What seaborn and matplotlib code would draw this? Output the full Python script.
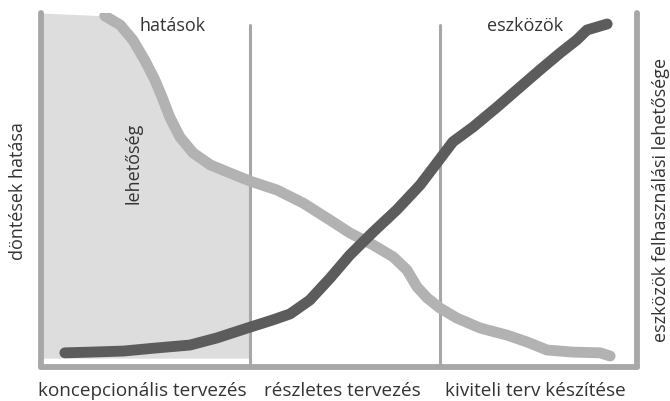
"""Design phases: decision impact vs. tool usage"""
import matplotlib
matplotlib.use("Agg")
import matplotlib.pyplot as plt
import numpy as np
import pandas as pd
import seaborn as sns

# Curve samples (x = project progress 0..100, y = level 0..100)
impact_x = [10.7, 13.3, 15.4, 17.4, 19.1, 20.3, 21.6, 23.3, 25.5, 28.4, 31.7,
            35.1, 39.6, 44.0, 48.5, 51.8, 55.7, 59.1, 61.4, 63.1, 64.8, 66.9,
            69.8, 73.7, 78.2, 81.5, 84.9, 89.3, 93.8, 95.5]
impact_y = [99.2, 96.6, 92.4, 86.7, 81.1, 76.3, 70.6, 65.0, 60.5, 57.1, 54.8,
            52.5, 50.0, 46.3, 41.5, 37.9, 34.5, 31.1, 27.4, 22.6, 19.5, 16.7,
            13.8, 11.0, 9.0, 7.1, 4.8, 4.2, 4.0, 3.1]

tools_x = [4.0, 8.2, 13.8, 19.5, 25.0, 29.5, 34.6, 38.9, 41.8, 45.1, 48.5,
           51.8, 55.7, 59.7, 63.6, 66.4, 69.1, 72.5, 76.5, 80.4, 83.7, 87.1,
           89.9, 91.6, 95.0]
tools_y = [4.0, 4.2, 4.5, 5.4, 6.2, 8.2, 11.0, 13.3, 15.0, 18.9, 25.1,
           31.6, 38.1, 44.4, 51.4, 57.6, 63.6, 67.8, 73.4, 79.1, 83.9, 88.7,
           92.4, 95.2, 96.9]

phase_bounds = [35.1, 66.9]
phase_labels = ['koncepcionális tervezés', 'részletes tervezés', 'kiviteli terv készítése']
curve_labels = ['hatások', 'eszközök']
area_label = 'lehetőség'
left_label = 'döntések hatása'
right_label = 'eszközök felhasználási lehetősége'

LIGHT = '#b1b2b1'
DARK = '#5b5c5b'
FRAME = '#a6a7a6'
FILL = '#dcdddc'
TEXT = '#333333'

sns.set_theme(style='white')
plt.rcParams['font.family'] = ['Open Sans', 'DejaVu Sans']

W, H = 670, 401
fig = plt.figure(figsize=(W / 100, H / 100), dpi=100)
# axes frame in pixels: left 41, right 637, top 13, bottom 367
ax = fig.add_axes([41 / W, 1 - 367 / H, 596 / W, 354 / H])
ax.set_xlim(0, 100)
ax.set_ylim(0, 100)

# shaded "possibility" area under the impact curve in the first phase
ix = np.array(impact_x)
iy = np.array(impact_y)
mask = ix <= phase_bounds[0]
fill_x = np.concatenate([[0], ix[mask]])
fill_top = np.concatenate([[100], iy[mask]])
ax.fill_between(fill_x, 2.5, fill_top, color=FILL, lw=0, zorder=1)

# phase separators
for b in phase_bounds:
    ax.plot([b, b], [0, 96.6], color=FRAME, lw=2.2, zorder=2,
            solid_capstyle='round')

impact = pd.DataFrame({'x': impact_x, 'y': impact_y})
tools = pd.DataFrame({'x': tools_x, 'y': tools_y})
sns.lineplot(data=impact, x='x', y='y', sort=False, color=LIGHT, lw=7.8,
             ax=ax, zorder=3, solid_capstyle='round', solid_joinstyle='round')
sns.lineplot(data=tools, x='x', y='y', sort=False, color=DARK, lw=7.8,
             ax=ax, zorder=4, solid_capstyle='round', solid_joinstyle='round')

# frame: left, bottom, right
for side in ['left', 'bottom', 'right']:
    ax.spines[side].set_visible(True)
    ax.spines[side].set_color(FRAME)
    ax.spines[side].set_linewidth(4.2)
    ax.spines[side].set_capstyle('round')
ax.spines['top'].set_visible(False)
ax.set_xticks([])
ax.set_yticks([])
ax.set_xlabel('')
ax.set_ylabel('')
ax.set_facecolor('none')

fs = 13
ax.text(22.0, 96.3, curve_labels[0], ha='center', va='center', fontsize=fs, color=TEXT)
ax.text(81.2, 96.3, curve_labels[1], ha='center', va='center', fontsize=fs, color=TEXT)
ax.text(15.6, 57.6, area_label, ha='center', va='center', rotation=90,
        fontsize=fs, color=TEXT)

fig.text(18 / W, 1 - 191 / H, left_label, ha='center', va='center', rotation=90,
         fontsize=fs, color=TEXT)
fig.text(661 / W, 1 - 200 / H, right_label, ha='center', va='center', rotation=90,
         fontsize=fs, color=TEXT)

for cx, lab in zip([142, 342, 535], phase_labels):
    fig.text(cx / W, 1 - 391 / H, lab, ha='center', va='center', fontsize=13.6,
             color=TEXT)

fig.savefig('out.png', dpi=100, facecolor='white')
